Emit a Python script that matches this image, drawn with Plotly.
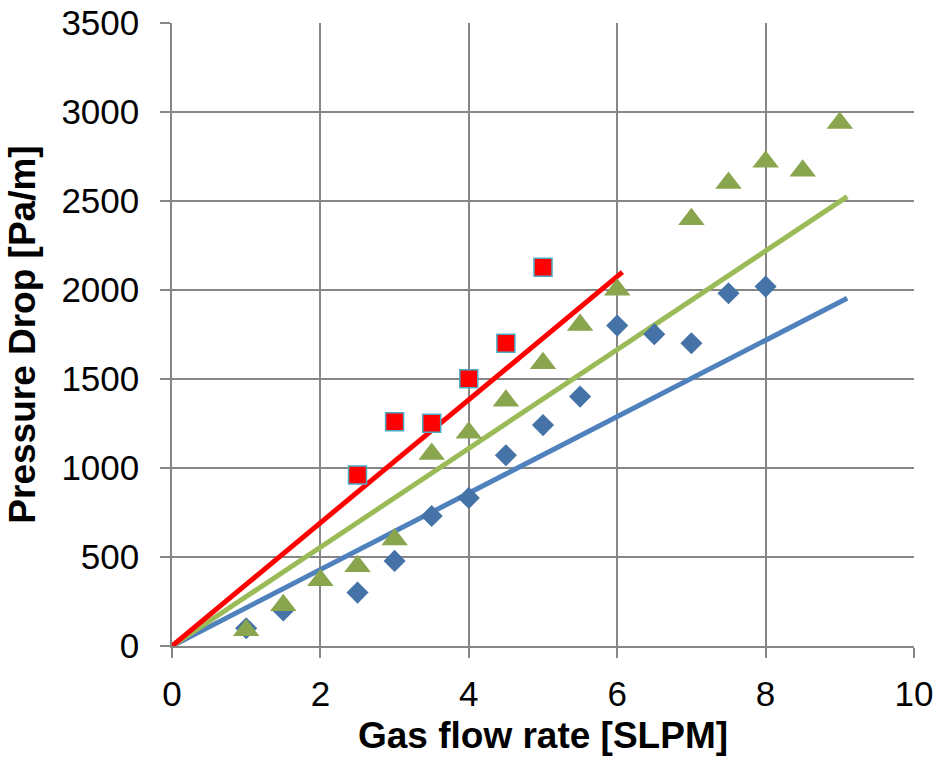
import plotly.graph_objects as go

# Data
blue_x = [1, 1.5, 2.5, 3, 3.5, 4, 4.5, 5, 5.5, 6, 6.5, 7, 7.5, 8]
blue_y = [100, 200, 300, 478, 730, 832, 1072, 1241, 1401, 1800, 1751, 1701, 1982, 2019]

green_x = [1, 1.5, 2, 2.5, 3, 3.5, 4, 4.5, 5, 5.5, 6, 7, 7.5, 8, 8.5, 9]
green_y = [88, 229, 370, 448, 598, 1078, 1198, 1378, 1588, 1804, 2001, 2398, 2601, 2720, 2670, 2938]

red_x = [2.5, 3, 3.5, 4, 4.5, 5]
red_y = [960, 1260, 1251, 1502, 1701, 2128]

# Trend lines (through origin)
blue_fit_x = [0, 9.1]
blue_fit_y = [0, 1954]
green_fit_x = [0, 9.1]
green_fit_y = [0, 2525]
red_fit_x = [0, 6.07]
red_fit_y = [0, 2100]

FONT = "Arial, Liberation Sans, sans-serif"

fig = go.Figure()

fig.add_trace(go.Scatter(x=blue_fit_x, y=blue_fit_y, mode="lines",
                         line=dict(color="#4F81BD", width=5), showlegend=False))
fig.add_trace(go.Scatter(x=green_fit_x, y=green_fit_y, mode="lines",
                         line=dict(color="#9BBB59", width=5), showlegend=False))
fig.add_trace(go.Scatter(x=red_fit_x, y=red_fit_y, mode="lines",
                         line=dict(color="#FF0000", width=5), showlegend=False))

fig.add_trace(go.Scatter(x=blue_x, y=blue_y, mode="markers",
                         marker=dict(symbol="diamond", size=17, color="#4572A7",
                                     line=dict(width=0)), showlegend=False))
fig.add_trace(go.Scatter(x=green_x, y=green_y, mode="markers",
                         marker=dict(symbol="triangle-up", size=23, color="#89A54E",
                                     line=dict(width=0)), showlegend=False))
fig.add_trace(go.Scatter(x=red_x, y=red_y, mode="markers",
                         marker=dict(symbol="square", size=18, color="#FF0000",
                                     line=dict(width=1.5, color="#4BACC6")), showlegend=False))

axis_common = dict(
    showgrid=True, gridcolor="#868686", gridwidth=1.5,
    showline=True, linecolor="#868686", linewidth=1.5,
    ticks="outside", ticklen=10, tickcolor="#868686", tickwidth=1.5,
    zeroline=False, automargin=False,
    tickfont=dict(family=FONT, size=35, color="black"),
)

fig.update_xaxes(range=[0, 10], dtick=2, tick0=0,
                 ticklabelstandoff=6,
                 title=dict(text="<b>Gas flow rate [SLPM]</b>",
                            font=dict(family=FONT, size=37, color="black"),
                            standoff=10),
                 **axis_common)
fig.update_yaxes(range=[0, 3500], dtick=500, tick0=0,
                 ticklabelstandoff=14,
                 title=dict(text="<b>Pressure Drop [Pa/m]</b>",
                            font=dict(family=FONT, size=37, color="black"),
                            standoff=14),
                 **axis_common)

fig.update_layout(
    width=934, height=759,
    margin=dict(l=172, r=20, t=23, b=113),
    paper_bgcolor="white", plot_bgcolor="white",
)

fig.write_html("out.html")
